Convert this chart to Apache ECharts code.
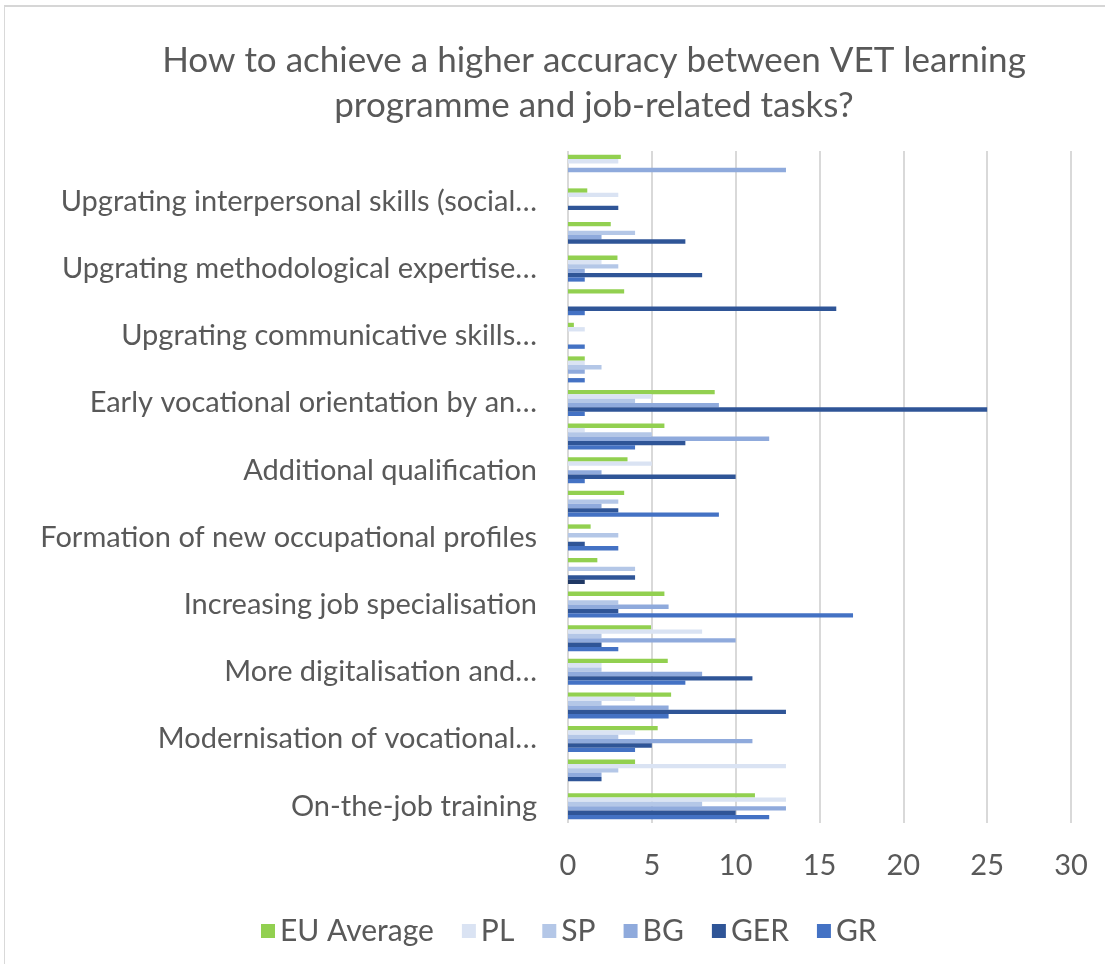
<!DOCTYPE html>
<html><head><meta charset="utf-8">
<script src="https://cdn.jsdelivr.net/npm/echarts@6/dist/echarts.min.js"></script>
<style>
html,body{margin:0;padding:0;background:#fff;overflow:hidden;}
#frame{position:absolute;left:4px;top:5px;width:1200px;height:1000px;border-left:1px solid #d9d9d9;border-top:2px solid #d6d6d6;}
#chart{position:absolute;left:0;top:0;width:1105px;height:964px;}
</style></head><body>
<div id="frame"></div>
<div id="chart"></div>
<script>
// Categories listed bottom -> top (only every other one is labelled in the source)
const categories = [
  'On-the-job training', 'Other measure 1',
  'Modernisation of vocational…', 'Other measure 2',
  'More digitalisation and…', 'Other measure 3',
  'Increasing job specialisation', 'Other measure 4',
  'Formation of new occupational profiles', 'Other measure 5',
  'Additional qualification', 'Other measure 6',
  'Early vocational orientation by an…', 'Other measure 7',
  'Upgrating communicative skills…', 'Other measure 8',
  'Upgrating methodological expertise…', 'Other measure 9',
  'Upgrating interpersonal skills (social…', 'Other measure 10'
];
const seriesNames = ['EU Average', 'PL', 'SP', 'BG', 'GER', 'GR'];
const euAverage = [11.15, 4, 5.35, 6.15, 5.95, 4.95, 5.75, 1.75, 1.35, 3.35, 3.55, 5.75, 8.75, 1, 0.35, 3.35, 2.95, 2.55, 1.15, 3.15];
const pl        = [13, 13, 4, 4, 2, 8, 0, 0, 0, 0, 5, 1, 5, 1, 1, 0, 2, 0, 3, 3];
const sp        = [8, 3, 3, 2, 2, 2, 3, 4, 3, 3, 0, 5, 4, 2, 0, 0, 3, 4, 0, 0];
const bg        = [13, 2, 11, 6, 8, 10, 6, 0, 0, 2, 2, 12, 9, 1, 0, 0, 1, 2, 0, 13];
const ger       = [10, 2, 5, 13, 11, 2, 3, 4, 1, 3, 10, 7, 25, 0, 0, 16, 8, 7, 3, 0];
const gr        = [12, 0, 4, 6, 7, 3, 17, 1, 3, 9, 1, 4, 1, 1, 1, 1, 1, 0, 0, 0];
const xTicks = [0, 5, 10, 15, 20, 25, 30];

const colors = ['#92d050', '#dae3f3', '#b4c7e7', '#8faadc', '#2f5597', '#4472c4'];
const allValues = [euAverage, pl, sp, bg, ger, gr];
const font = 'Lato, "Open Sans", sans-serif';
const textColor = '#595959';
// one GR bar is drawn darker in the source
const darkOverride = {series: 5, index: 7, color: '#203864'};

const chart = echarts.init(document.getElementById('chart'), null, {renderer: 'canvas'});
const series = seriesNames.map((name, i) => ({
  name: name,
  type: 'bar',
  data: allValues[i].map((v, j) =>
    (i === darkOverride.series && j === darkOverride.index)
      ? {value: v, itemStyle: {color: darkOverride.color}}
      : v),
  barGap: '0%',
  barCategoryGap: '22.5%',
  itemStyle: {color: colors[i]},
  emphasis: {disabled: true},
  animation: false
}));

chart.setOption({
  animation: false,
  color: colors,
  title: {
    text: 'How to achieve a higher accuracy between VET learning\nprogramme and job-related tasks?',
    left: 589,
    textAlign: 'center',
    top: 33,
    textStyle: {
      fontFamily: font, fontWeight: 'normal', fontSize: 35, color: textColor, lineHeight: 45
    }
  },
  legend: {
    data: seriesNames,
    left: 256,
    top: 911,
    icon: 'rect',
    itemWidth: 14,
    itemHeight: 14,
    itemGap: 28,
    textStyle: {fontFamily: font, fontSize: 30, color: textColor}
  },
  grid: {left: 568, right: 34, top: 151, bottom: 141, containLabel: false},
  xAxis: {
    type: 'value',
    min: xTicks[0],
    max: xTicks[xTicks.length - 1],
    interval: xTicks[1] - xTicks[0],
    axisLine: {show: false},
    axisTick: {show: false},
    splitLine: {show: true, lineStyle: {color: '#d9d9d9', width: 2}},
    axisLabel: {fontFamily: font, fontSize: 29, color: textColor, margin: 28}
  },
  yAxis: {
    type: 'category',
    data: categories,
    axisLine: {show: false},
    axisTick: {show: false},
    axisLabel: {interval: 1, fontFamily: font, fontSize: 29, color: textColor, margin: 31}
  },
  series: series
});
</script>
</body></html>
